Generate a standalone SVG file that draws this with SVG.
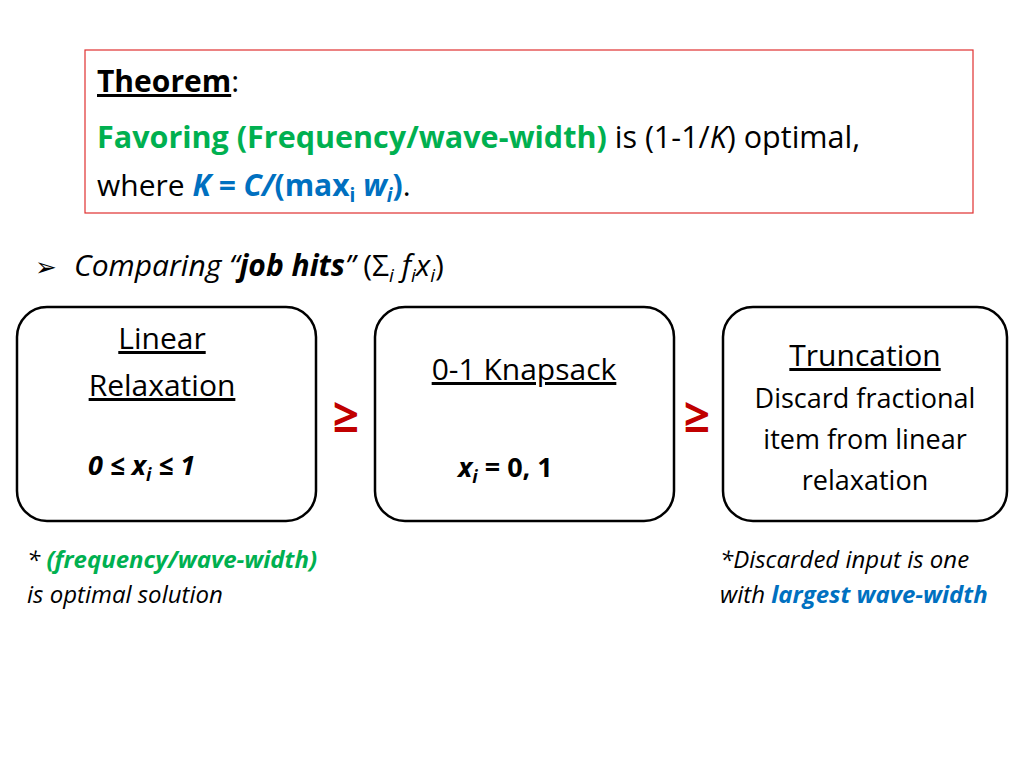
<svg xmlns="http://www.w3.org/2000/svg" width="1024" height="768" viewBox="0 0 1024 768">
<style>
text{font-family:"Open Sans","Liberation Sans",sans-serif;fill:#000}
.g{fill:#00b050;font-weight:bold}
.b{fill:#0070c0;font-weight:bold;font-style:italic}
.box{fill:#fff;stroke:#000;stroke-width:2.5}
.ge{fill:#c00000;font-weight:bold;font-size:46px}
.fn{font-size:24px;font-style:italic}
</style>
<rect width="1024" height="768" fill="#fff"/>
<g id="theorem">
<rect x="85" y="50" width="888" height="163" fill="none" stroke="#e03030" stroke-width="1.2"/>
<text x="97" y="92" font-size="30"><tspan font-weight="bold" text-decoration="underline">Theorem</tspan>:</text>
<text x="97" y="148" font-size="30.5"><tspan class="g">Favoring (Frequency/wave-width)</tspan> is (1-1/<tspan font-style="italic">K</tspan>) optimal,</text>
<text x="97" y="196" font-size="30">where <tspan class="b">K = C/</tspan><tspan fill="#0070c0" font-weight="bold">(max</tspan><tspan fill="#0070c0" font-weight="bold" font-size="19" dy="6">i</tspan><tspan class="b" dy="-6"> w</tspan><tspan class="b" font-size="19" dy="6">i</tspan><tspan fill="#0070c0" font-weight="bold" dy="-6">)</tspan>.</text>
</g>
<g id="bullet">
<text x="35" y="276" font-size="26" font-family="DejaVu Sans">➢</text>
<text x="74" y="276" font-size="30"><tspan font-style="italic">Comparing “</tspan><tspan font-style="italic" font-weight="bold">job hits</tspan><tspan font-style="italic">”</tspan> (Σ<tspan font-size="19" font-style="italic" dy="6">i</tspan><tspan font-style="italic" dy="-6"> f</tspan><tspan font-size="19" font-style="italic" dy="6">i</tspan><tspan font-style="italic" dy="-6">x</tspan><tspan font-size="19" font-style="italic" dy="6">i</tspan><tspan dy="-6">)</tspan></text>
</g>
<g id="linear">
<rect class="box" x="17" y="307" width="299" height="214" rx="30"/>
<text x="162" y="349" font-size="30" text-anchor="middle" text-decoration="underline">Linear</text>
<text x="162" y="396" font-size="30" text-anchor="middle" text-decoration="underline">Relaxation</text>
<text x="88" y="475" font-size="27" font-weight="bold" font-style="italic">0 ≤ x<tspan font-size="18" dy="6">i</tspan><tspan dy="-6"> ≤ 1</tspan></text>
</g>
<g id="knapsack">
<rect class="box" x="375" y="307" width="299" height="214" rx="30"/>
<text x="524" y="380" font-size="30" text-anchor="middle" text-decoration="underline">0-1 Knapsack</text>
<text x="458" y="477" font-size="27" font-weight="bold"><tspan font-style="italic">x</tspan><tspan font-size="18" font-style="italic" dy="6">i</tspan><tspan dy="-6"> = 0, 1</tspan></text>
</g>
<g id="truncation">
<rect class="box" x="723" y="307" width="284" height="214" rx="30"/>
<text x="865" y="366" font-size="30" text-anchor="middle" text-decoration="underline">Truncation</text>
<text x="865" y="408" font-size="27" text-anchor="middle">Discard fractional</text>
<text x="865" y="449" font-size="27" text-anchor="middle">item from linear</text>
<text x="865" y="490" font-size="27" text-anchor="middle">relaxation</text>
</g>
<g id="connectors">
<text class="ge" x="346" y="432" text-anchor="middle">≥</text>
<text class="ge" x="697" y="432" text-anchor="middle">≥</text>
</g>
<g id="notes">
<text class="fn" x="27" y="568">* <tspan class="g">(frequency/wave-width)</tspan></text>
<text class="fn" x="27" y="603">is optimal solution</text>
<text class="fn" x="720" y="568">*Discarded input is one</text>
<text class="fn" x="720" y="603">with <tspan class="b">largest wave-width</tspan></text>
</g>
</svg>
